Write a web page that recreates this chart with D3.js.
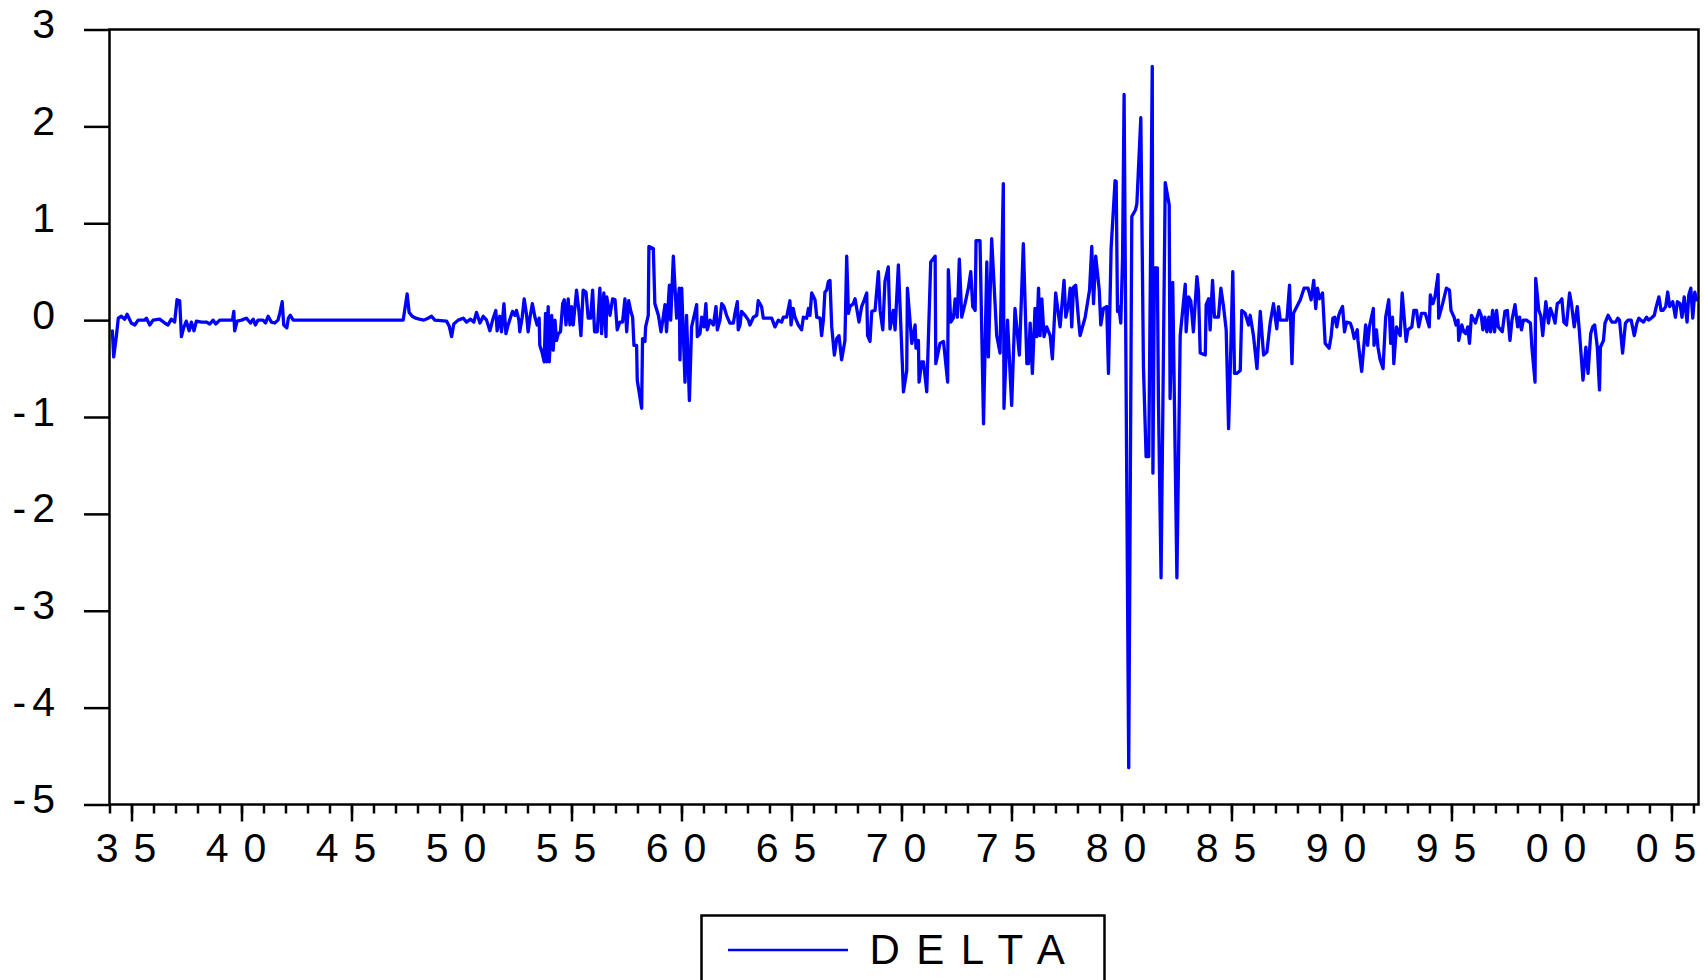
<!DOCTYPE html>
<html>
<head>
<meta charset="utf-8">
<script src="https://cdn.jsdelivr.net/npm/d3@7"></script>
<style>
  html, body { margin: 0; padding: 0; background: #ffffff; }
  svg { display: block; }
</style>
</head>
<body>
<svg id="chart" width="1704" height="980"></svg>
<script>
// DELTA, monthly observations: [year, value] turning points, grouped by decade
const delta1930s = [
  [1934.13,-0.11],[1934.19,-0.38],[1934.31,-0.17],[1934.40,0.02],[1934.54,0.04],[1934.69,0.01],[1934.80,0.06],
  [1934.99,-0.03],[1935.15,-0.05],[1935.30,0],[1935.60,0],[1935.68,0.02],[1935.83,-0.05],[1935.98,0],
  [1936.28,0.01],[1936.51,-0.03],[1936.66,-0.05],[1936.81,0.01],[1936.96,-0.02],[1937.07,0.21],[1937.19,0.20],
  [1937.27,-0.17],[1937.37,-0.08],[1937.49,-0.01],[1937.62,-0.11],[1937.72,-0.02],[1937.84,-0.11],[1937.95,-0.01],
  [1938.18,-0.02],[1938.40,-0.02],[1938.56,-0.04],[1938.71,0],[1938.83,-0.04],[1939.01,0],[1939.59,0],
  [1939.65,0.09],[1939.69,-0.11],[1939.80,-0.01]
];
const delta1940s = [
  [1940.00,0],[1940.22,0.02],[1940.41,-0.03],[1940.53,0.01],[1940.63,-0.05],[1940.75,0],[1940.98,0],
  [1941.09,-0.03],[1941.21,0.04],[1941.36,-0.02],[1941.51,-0.03],[1941.66,0],[1941.75,0.08],[1941.85,0.19],
  [1941.92,-0.05],[1942.06,-0.08],[1942.13,0.02],[1942.22,0.05],[1942.35,0],[1947.35,0],[1947.53,0.27],
  [1947.62,0.08],[1947.76,0.04],[1947.92,0.02],[1948.08,0.01],[1948.29,0],[1948.48,0.02],[1948.64,0.04],
  [1948.79,0],[1949.32,-0.01],[1949.44,-0.06],[1949.55,-0.17],[1949.65,-0.04],[1949.85,0]
];
const delta1950s = [
  [1950.08,0.02],[1950.23,-0.02],[1950.41,0.01],[1950.56,-0.02],[1950.68,0.08],[1950.84,-0.03],[1950.99,0.04],
  [1951.14,0],[1951.29,-0.11],[1951.44,0.02],[1951.56,0.10],[1951.62,-0.11],[1951.74,0.04],[1951.82,-0.12],
  [1951.93,0.17],[1952.02,-0.14],[1952.12,-0.05],[1952.23,0.03],[1952.32,0.09],[1952.43,0.05],[1952.50,0.10],
  [1952.61,0],[1952.65,-0.12],[1952.76,0.03],[1952.85,0.22],[1952.96,0.05],[1953.03,-0.12],[1953.11,0.02],
  [1953.22,0.17],[1953.34,0.03],[1953.44,-0.05],[1953.53,0.02],[1953.56,-0.26],[1953.67,-0.34],[1953.76,-0.43],
  [1953.82,0.07],[1953.87,-0.43],[1953.94,0.14],[1953.99,-0.43],[1954.10,0.05],[1954.17,-0.31],[1954.25,0],
  [1954.32,-0.21],[1954.40,-0.14],[1954.50,-0.12],[1954.60,0.17],[1954.67,0.21],[1954.75,-0.05],[1954.85,0.22],
  [1954.93,-0.05],[1955.00,0.14],[1955.08,-0.05],[1955.23,0.31],[1955.34,0.09],[1955.43,-0.16],[1955.53,0.31],
  [1955.66,0.29],[1955.76,0.02],[1955.87,0.02],[1955.96,0.31],[1956.05,-0.12],[1956.17,-0.12],[1956.29,0.33],
  [1956.37,-0.14],[1956.47,0.28],[1956.57,-0.17],[1956.60,0.24],[1956.75,0.05],[1956.87,0.22],[1956.98,0.21],
  [1957.08,-0.10],[1957.20,-0.02],[1957.32,-0.02],[1957.43,0.22],[1957.51,-0.12],[1957.60,0.20],[1957.69,0.10],
  [1957.78,0.03],[1957.84,-0.26],[1957.96,-0.26],[1957.99,-0.62],[1958.19,-0.91],[1958.23,-0.19],[1958.34,-0.22],
  [1958.37,-0.07],[1958.49,0.05],[1958.52,0.76],[1958.72,0.74],[1958.79,0.17],[1958.95,0.05],[1959.07,-0.12],
  [1959.17,0.03],[1959.25,0.16],[1959.32,-0.12],[1959.45,0.36],[1959.51,0],[1959.63,0.66],[1959.78,0.02],
  [1959.90,0.33],[1959.93,-0.41]
];
const delta1960s = [
  [1960.01,0.33],[1960.16,-0.64],[1960.23,0.05],[1960.36,-0.83],[1960.46,-0.07],[1960.58,0.05],[1960.69,0.16],
  [1960.72,-0.17],[1960.84,-0.14],[1960.92,0.03],[1961.02,-0.07],[1961.11,0.17],[1961.17,-0.10],[1961.30,0],
  [1961.45,-0.05],[1961.57,0.14],[1961.63,-0.10],[1961.75,0],[1961.83,0.17],[1961.93,0.14],[1962.05,0.05],
  [1962.20,-0.03],[1962.36,-0.03],[1962.43,0.07],[1962.54,0.19],[1962.58,-0.10],[1962.66,-0.05],[1962.73,0.09],
  [1962.89,0.05],[1963.04,0],[1963.11,-0.05],[1963.27,0.03],[1963.42,0.05],[1963.49,0.20],[1963.64,0.14],
  [1963.72,0.02],[1964.10,0.02],[1964.25,-0.07],[1964.40,0],[1964.55,-0.02],[1964.63,0.03],[1964.78,0.03],
  [1964.93,0.20],[1964.98,-0.05],[1965.08,0.12],[1965.16,0.03],[1965.31,-0.05],[1965.46,-0.10],[1965.54,0.03],
  [1965.69,0.02],[1965.77,0.12],[1965.84,0.05],[1965.92,0.28],[1966.07,0.21],[1966.15,0.03],[1966.30,0.02],
  [1966.37,-0.16],[1966.45,0],[1966.52,0.29],[1966.60,0.31],[1966.68,0.40],[1966.75,0.41],[1966.83,-0.07],
  [1966.95,-0.36],[1967.06,-0.19],[1967.16,-0.16],[1967.28,-0.41],[1967.43,-0.21],[1967.51,0.66],[1967.59,0.07],
  [1967.66,0.14],[1967.81,0.17],[1967.89,0.22],[1968.07,-0.02],[1968.19,0.14],[1968.31,0.21],[1968.42,0.28],
  [1968.46,-0.16],[1968.57,-0.22],[1968.65,0.09],[1968.80,0.10],[1968.95,0.50],[1969.03,0.10],[1969.15,-0.10],
  [1969.25,0.40],[1969.40,0.55],[1969.48,-0.09],[1969.63,0.10],[1969.71,-0.10],[1969.86,0.57]
];
const delta1970s = [
  [1970.09,-0.74],[1970.24,-0.52],[1970.27,0.33],[1970.47,-0.24],[1970.62,-0.05],[1970.66,-0.29],[1970.77,-0.21],
  [1970.80,-0.64],[1970.92,-0.43],[1971.00,-0.43],[1971.15,-0.74],[1971.33,0.60],[1971.53,0.66],[1971.56,-0.45],
  [1971.75,-0.24],[1971.91,-0.22],[1972.10,-0.64],[1972.13,0.52],[1972.24,-0.02],[1972.36,0.02],[1972.44,0.22],
  [1972.54,0.03],[1972.63,0.63],[1972.74,0.03],[1972.89,0.17],[1973.04,0.33],[1973.15,0.50],[1973.24,0.14],
  [1973.35,0.10],[1973.39,0.82],[1973.57,0.82],[1973.73,-1.07],[1973.88,0.60],[1973.95,-0.38],[1974.10,0.84],
  [1974.33,-0.16],[1974.48,-0.34],[1974.63,1.41],[1974.66,-0.91],[1974.82,0],[1975.01,-0.88],[1975.16,0.12],
  [1975.36,-0.36],[1975.54,0.79],[1975.70,-0.45],[1975.77,-0.45],[1975.85,-0.03],[1975.95,-0.55],[1976.07,0.12],
  [1976.15,-0.17],[1976.23,0.33],[1976.30,-0.16],[1976.38,0.22],[1976.48,-0.17],[1976.60,-0.07],[1976.76,-0.16],
  [1976.86,-0.40],[1977.01,0.28],[1977.21,-0.07],[1977.39,0.41],[1977.47,0.03],[1977.59,0.16],[1977.67,0.33],
  [1977.74,-0.07],[1977.82,0.34],[1977.92,0.36],[1978.05,0],[1978.12,-0.16],[1978.35,0.03],[1978.55,0.31],
  [1978.65,0.76],[1978.73,0.17],[1978.83,0.66],[1978.99,0.31],[1979.06,-0.05],[1979.18,0.12],[1979.33,0.14],
  [1979.41,-0.55],[1979.53,0.74],[1979.71,1.44],[1979.76,1.43],[1979.82,0.09],[1979.88,0.14],[1979.97,-0.03]
];
const delta1980s = [
  [1980.05,0.64],[1980.12,2.33],[1980.33,-4.62],[1980.47,1.07],[1980.64,1.14],[1980.70,1.20],[1980.88,2.09],
  [1981.00,-0.49],[1981.12,-1.41],[1981.24,-1.41],[1981.40,2.62],[1981.43,-1.58],[1981.50,0.54],[1981.63,0.54],
  [1981.68,-0.81],[1981.80,-2.66],[1981.99,1.42],[1982.17,1.19],[1982.21,-0.81],[1982.33,0.39],[1982.52,-2.66],
  [1982.67,-0.16],[1982.90,0.37],[1982.94,-0.12],[1983.05,0.24],[1983.15,0.20],[1983.27,-0.12],[1983.43,0.45],
  [1983.50,0.30],[1983.58,-0.34],[1983.81,-0.36],[1983.85,0.16],[1983.96,0.22],[1984.03,-0.10],[1984.14,0.41],
  [1984.23,0.03],[1984.41,0.03],[1984.52,0.33],[1984.64,0.14],[1984.76,-0.10],[1984.87,-1.12],[1984.94,-0.55],
  [1985.06,0.50],[1985.14,-0.55],[1985.24,-0.55],[1985.40,-0.52],[1985.47,0.10],[1985.62,0.07],[1985.78,-0.05],
  [1985.85,0.05],[1986.00,-0.16],[1986.16,-0.50],[1986.31,0.09],[1986.46,-0.36],[1986.61,-0.33],[1986.76,-0.03],
  [1986.91,0.17],[1987.06,-0.09],[1987.14,0.14],[1987.22,0],[1987.52,0],[1987.64,0.36],[1987.75,-0.45],
  [1987.82,0.07],[1988.13,0.21],[1988.30,0.33],[1988.48,0.33],[1988.62,0.21],[1988.74,0.41],[1988.83,0.12],
  [1988.91,0.33],[1989.00,0.22],[1989.14,0.28],[1989.26,-0.24],[1989.44,-0.29],[1989.53,-0.17],[1989.61,0.02],
  [1989.70,0.03],[1989.79,-0.07],[1989.88,0.05],[1989.96,0.10]
];
const delta1990s = [
  [1990.05,0.14],[1990.14,-0.12],[1990.23,-0.02],[1990.40,-0.03],[1990.49,-0.09],[1990.58,-0.19],[1990.72,-0.10],
  [1990.75,-0.21],[1990.92,-0.53],[1991.10,-0.05],[1991.19,-0.26],[1991.27,-0.07],[1991.45,0.12],[1991.48,-0.26],
  [1991.59,-0.10],[1991.66,-0.28],[1991.76,-0.41],[1991.89,-0.50],[1992.01,0.03],[1992.15,0.21],[1992.24,-0.24],
  [1992.32,0.03],[1992.38,-0.45],[1992.50,-0.07],[1992.67,-0.16],[1992.76,0.28],[1992.94,-0.22],[1993.02,-0.10],
  [1993.20,-0.07],[1993.29,0.10],[1993.41,0.10],[1993.51,-0.07],[1993.64,0.07],[1993.81,0.07],[1993.99,-0.07],
  [1994.04,0.26],[1994.16,0.17],[1994.25,0.24],[1994.39,0.47],[1994.42,0.02],[1994.60,0.17],[1994.77,0.33],
  [1994.91,0.31],[1994.98,0.10],[1995.12,0.03],[1995.21,-0.05],[1995.30,0],[1995.33,-0.21],[1995.47,-0.05],
  [1995.56,-0.12],[1995.65,-0.14],[1995.74,-0.07],[1995.82,-0.24],[1995.91,0.05],[1996.09,-0.03],[1996.26,0.10],
  [1996.35,0.05],[1996.43,-0.10],[1996.52,0.03],[1996.61,-0.12],[1996.70,0.03],[1996.78,-0.12],[1996.87,0.10],
  [1996.96,-0.12],[1997.05,0.10],[1997.13,-0.07],[1997.31,-0.12],[1997.43,0.09],[1997.54,0.10],[1997.66,-0.21],
  [1997.75,0],[1997.89,0.16],[1998.01,-0.07],[1998.10,0.03],[1998.18,-0.10],[1998.27,0],[1998.41,0],
  [1998.59,-0.03],[1998.66,-0.29],[1998.80,-0.64],[1998.83,0.43],[1998.97,0.10],[1999.06,0.05],[1999.15,-0.16],
  [1999.29,0.19],[1999.41,-0.03],[1999.50,0.12],[1999.64,0.03],[1999.71,-0.03],[1999.81,0.17],[1999.93,0.19]
];
const delta2000s = [
  [2000.02,0.22],[2000.11,-0.02],[2000.23,-0.05],[2000.37,0.28],[2000.46,0.16],[2000.58,-0.07],[2000.72,0.14],
  [2000.81,-0.10],[2000.98,-0.62],[2001.11,-0.28],[2001.21,-0.55],[2001.33,-0.14],[2001.42,-0.07],[2001.51,-0.05],
  [2001.63,-0.28],[2001.73,-0.72],[2001.77,-0.28],[2001.91,-0.21],[2001.98,-0.03],[2002.12,0.05],[2002.29,-0.02],
  [2002.47,-0.02],[2002.56,0.02],[2002.64,0],[2002.78,-0.34],[2002.91,-0.03],[2003.03,0],[2003.17,0],
  [2003.31,-0.16],[2003.43,-0.03],[2003.52,0.02],[2003.61,0],[2003.73,-0.02],[2003.87,0.03],[2003.96,0],
  [2004.13,0.03],[2004.22,0.05],[2004.31,0.14],[2004.43,0.24],[2004.53,0.10],[2004.62,0.10],[2004.74,0.14],
  [2004.83,0.29],[2004.92,0.14],[2005.06,0.19],[2005.18,0.03],[2005.27,0.19],[2005.39,0.17],[2005.48,0.03],
  [2005.58,0.24],[2005.71,-0.02],[2005.79,0.26],[2005.88,0.33],[2005.97,0.02],[2006.06,0.29],[2006.14,0.21]
];

// Axis definitions
const yTicks = [3, 2, 1, 0, -1, -2, -3, -4, -5];
const minorYears = d3.range(1934, 2007);
const majorYears = [1935, 1940, 1945, 1950, 1955, 1960, 1965, 1970, 1975, 1980, 1985, 1990, 1995, 2000, 2005];
const majorLabels = ["35", "40", "45", "50", "55", "60", "65", "70", "75", "80", "85", "90", "95", "00", "05"];
const seriesName = "DELTA";

const series = [].concat(delta1930s, delta1940s, delta1950s, delta1960s,
                         delta1970s, delta1980s, delta1990s, delta2000s);

const FONT = "'Liberation Sans', Arial, Helvetica, sans-serif";
const plot = { left: 109.5, right: 1698.5, top: 29.5, bottom: 804.5 };

const x = d3.scaleLinear().domain([1934, 2006.23]).range([plot.left, plot.right]);
const y = d3.scaleLinear().domain([-5, 3]).range([plot.bottom, plot.top]);

const svg = d3.select("#chart");

// spreads the characters of a label apart with tspans (no trailing gap)
function spaced(textSel, gap) {
  textSel.each(function () {
    const t = d3.select(this);
    const chars = Array.from(t.text());
    t.text(null);
    chars.forEach((c, i) => {
      t.append("tspan").attr("dx", i === 0 ? null : gap).text(c);
    });
  });
}

// yearly minor ticks
svg.append("g")
  .attr("transform", `translate(0,${plot.bottom})`)
  .call(d3.axisBottom(x).tickValues(minorYears).tickSize(9).tickFormat(""))
  .call(g => g.select(".domain").remove())
  .call(g => g.selectAll("line").attr("stroke", "#000").attr("stroke-width", 2.5));

// five-year major ticks with two-digit labels
svg.append("g")
  .attr("transform", `translate(0,${plot.bottom})`)
  .call(d3.axisBottom(x).tickValues(majorYears).tickSize(17)
          .tickFormat((d, i) => majorLabels[i]))
  .call(g => g.select(".domain").remove())
  .call(g => g.selectAll("line").attr("stroke", "#000").attr("stroke-width", 2.5))
  .call(g => g.selectAll("text")
      .attr("x", -6).attr("y", 57.5).attr("dy", null)
      .attr("fill", "#000")
      .attr("font-family", FONT).attr("font-size", 41)
      .attr("text-anchor", "middle")
      .call(spaced, 15));

// left value axis
svg.append("g")
  .attr("transform", `translate(${plot.left},0)`)
  .call(d3.axisLeft(y).tickValues(yTicks).tickSize(25.5).tickFormat(d => String(d)))
  .call(g => g.select(".domain").remove())
  .call(g => g.selectAll("line").attr("stroke", "#000").attr("stroke-width", 2.5))
  .call(g => g.selectAll("text")
      .attr("x", -54.5).attr("y", 8).attr("dy", null)
      .attr("fill", "#000")
      .attr("font-family", FONT).attr("font-size", 41)
      .attr("text-anchor", "end")
      .call(spaced, 6));

// the series line
const line = d3.line().x(d => x(d[0])).y(d => y(d[1]));
svg.append("path")
  .datum(series)
  .attr("d", line)
  .attr("fill", "none")
  .attr("stroke", "#0000ff")
  .attr("stroke-width", 3.3)
  .attr("stroke-linejoin", "round")
  .attr("stroke-linecap", "round");

// plot frame
svg.append("rect")
  .attr("x", plot.left).attr("y", plot.top)
  .attr("width", plot.right - plot.left).attr("height", plot.bottom - plot.top)
  .attr("fill", "none").attr("stroke", "#000").attr("stroke-width", 2.5);

// legend
const legend = svg.append("g");
legend.append("rect")
  .attr("x", 701.5).attr("y", 915.5).attr("width", 403).attr("height", 100)
  .attr("fill", "#fff").attr("stroke", "#000").attr("stroke-width", 2.5);
legend.append("line")
  .attr("x1", 728).attr("x2", 848).attr("y1", 950).attr("y2", 950)
  .attr("stroke", "#0000ff").attr("stroke-width", 2.5);
legend.append("text")
  .attr("x", 869.5).attr("y", 964)
  .attr("font-family", FONT).attr("font-size", 42)
  .attr("fill", "#000")
  .text(seriesName)
  .call(spaced, 16.5);
</script>
</body>
</html>
